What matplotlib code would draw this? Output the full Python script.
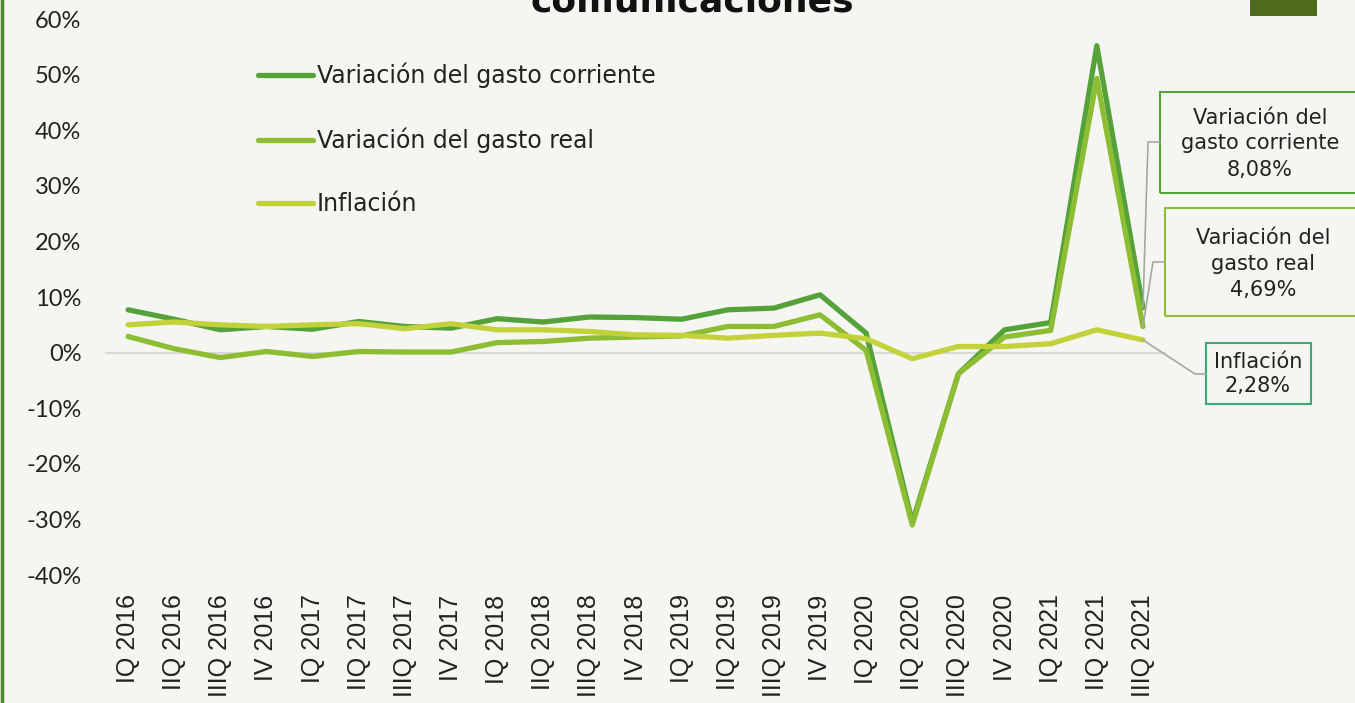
import numpy as np
import matplotlib
matplotlib.use("Agg")
import matplotlib.pyplot as plt
from matplotlib.patches import Rectangle
from matplotlib.lines import Line2D

# data
quarters = ["IQ 2016", "IIQ 2016", "IIIQ 2016", "IV 2016",
            "IQ 2017", "IIQ 2017", "IIIQ 2017", "IV 2017",
            "IQ 2018", "IIQ 2018", "IIIQ 2018", "IV 2018",
            "IQ 2019", "IIQ 2019", "IIIQ 2019", "IV 2019",
            "IQ 2020", "IIQ 2020", "IIIQ 2020", "IV 2020",
            "IQ 2021", "IIQ 2021", "IIIQ 2021"]
gasto_corriente = [7.7, 6.0, 4.1, 4.7, 4.2, 5.6, 4.7, 4.4, 6.1, 5.5, 6.4, 6.3,
                   6.0, 7.7, 8.0, 10.4, 3.5, -30.5, -3.8, 4.1, 5.4, 55.2, 8.08]
gasto_real = [2.9, 0.7, -0.9, 0.2, -0.7, 0.2, 0.1, 0.1, 1.8, 2.0, 2.6, 2.8,
              3.0, 4.7, 4.7, 6.8, 0.4, -31.0, -3.8, 2.8, 4.0, 49.3, 4.69]
inflacion = [5.0, 5.5, 5.0, 4.7, 5.0, 5.2, 4.3, 5.2, 4.1, 4.1, 3.8, 3.2,
             3.1, 2.6, 3.1, 3.5, 2.5, -1.1, 1.1, 1.1, 1.6, 4.1, 2.28]

labels = ["Variación del gasto corriente", "Variación del gasto real", "Inflación"]
colors = ["#55a23a", "#8dbd32", "#c3d23a"]
box_colors = ["#55a23a", "#8dbd32", "#3aaa74"]
box_texts = ["Variación del\ngasto corriente\n8,08%",
             "Variación del\ngasto real\n4,69%",
             "Inflación\n2,28%"]

W, H = 1355, 703
bg = "#f5f6f1"
plt.rcParams['font.family'] = ['DejaVu Sans']

fig = plt.figure(figsize=(W / 100, H / 100), dpi=100, facecolor=bg)

def fx(px):
    return px / W

def fy(py):
    return (H - py) / H

ax = fig.add_axes([fx(105), fy(575), fx(1166) - fx(105), fy(19) - fy(575)])
ax.set_facecolor(bg)
x = np.arange(len(quarters))
series = [gasto_corriente, gasto_real, inflacion]
for s, lab, c in zip(series, labels, colors):
    ax.plot(x, s, color=c, lw=3.8, solid_capstyle='round', solid_joinstyle='round', label=lab)

ax.set_xlim(-0.5, len(quarters) - 0.5)
ax.set_ylim(-40, 60)
ax.set_yticks(np.arange(-40, 61, 10))
ax.set_yticklabels([f"{v}%" for v in range(-40, 61, 10)], fontsize=17,
                   family="Lato", color="#222222")
ax.set_xticks(x)
ax.set_xticklabels(quarters, rotation=90, fontsize=18, family="Liberation Sans", color="#222222")
ax.tick_params(axis='y', length=0, pad=17)
ax.tick_params(axis='x', length=0, pad=14)
for sp in ax.spines.values():
    sp.set_visible(False)
ax.axhline(0, color="#d9d9d9", lw=1.5, zorder=0)

leg = ax.legend(loc="upper left", bbox_to_anchor=(0.144, 0.921), frameon=False,
                borderpad=0, borderaxespad=0,
                fontsize=17, handlelength=2.35, handletextpad=0.15, labelspacing=1.65)
for t in leg.get_texts():
    t.set_color("#222222")

# title (partially cut off at top)
fig.text(fx(692), fy(12), "comunicaciones", ha="center", va="baseline",
         fontsize=26, fontweight="bold", color="#111111")

# top-right decoration and left border
fig.add_artist(Rectangle((fx(1250), fy(16)), fx(67), fy(0) - fy(16),
                         transform=fig.transFigure, color="#4e6a1d", lw=0))
fig.add_artist(Line2D([fx(1.5), fx(1.5)], [0, 1], transform=fig.transFigure,
                      color="#4a8a2e", lw=2.5))

# callout boxes
fig.canvas.draw()
boxes = [(1160, 92, 1362, 193, 1260, [118, 143, 170]),
         (1165, 208, 1362, 316, 1263, [238, 264, 290]),
         (1206, 343, 1311, 404, 1258, [362, 386])]
leaders = [[(1148, 142), (1160, 142)],
           [(1153, 262), (1165, 262)],
           [(1195, 374), (1206, 374)]]
for i, (x0, y0, x1, y1, tx, ly) in enumerate(boxes):
    fig.add_artist(Rectangle((fx(x0), fy(y1)), fx(x1 - x0), fy(y0) - fy(y1),
                             transform=fig.transFigure, fill=False,
                             edgecolor=box_colors[i], lw=1.5))
    for txt, yy in zip(box_texts[i].split("\n"), ly):
        fig.text(fx(tx), fy(yy), txt, ha="center", va="center", fontsize=15, color="#222222")
    px, py = ax.transData.transform((x[-1], series[i][-1]))
    pts = [(px, H - py)] + leaders[i]
    fig.add_artist(Line2D([fx(p[0]) for p in pts], [fy(p[1]) for p in pts],
                          transform=fig.transFigure, color="#a6a6a6", lw=1.2))

fig.savefig("out.png", dpi=100, facecolor=bg)
